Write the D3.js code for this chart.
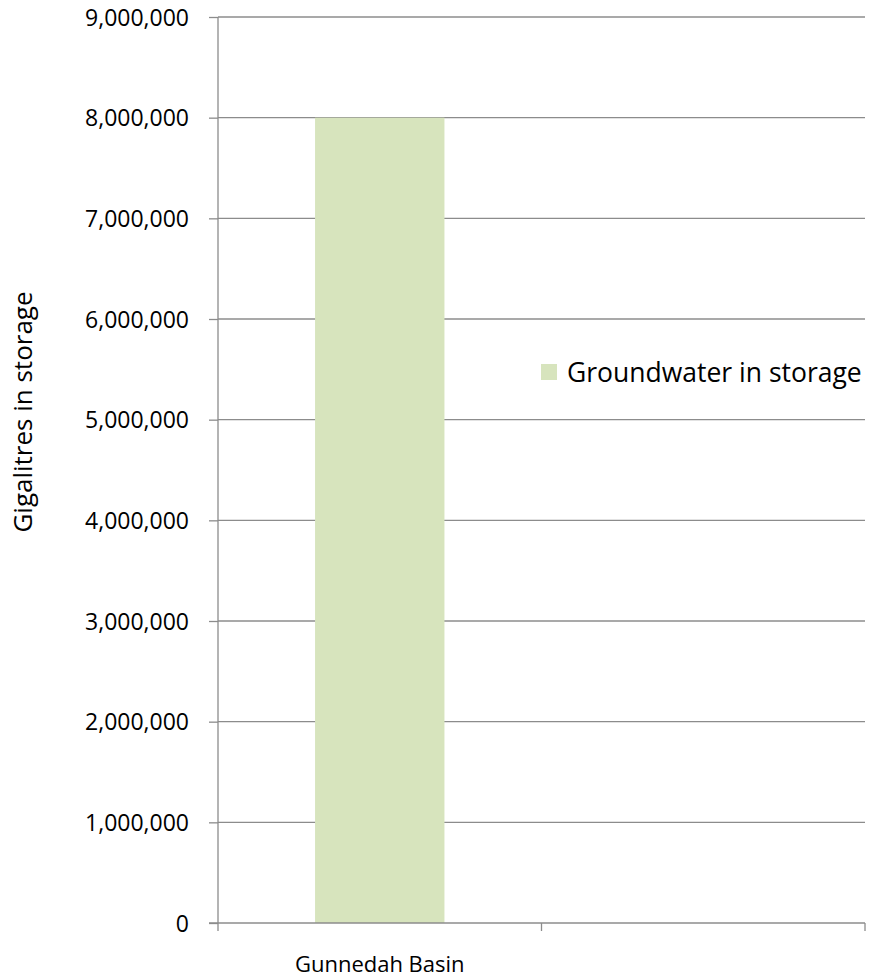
<!DOCTYPE html>
<html>
<head>
<meta charset="utf-8">
<script src="https://cdn.jsdelivr.net/npm/d3@7"></script>
<style>
  body { margin: 0; background: #fff; }
  text { font-family: "Open Sans", sans-serif; fill: #000; }
</style>
</head>
<body>
<div id="chart"></div>
<script>
// chart data
var categories = ["Gunnedah Basin", ""];
var values = [8000000, null];
var seriesName = "Groundwater in storage";
var yTicks = [0, 1000000, 2000000, 3000000, 4000000, 5000000, 6000000, 7000000, 8000000, 9000000];

var svgWidth = 877;
var svgHeight = 979;

var margin = { top: 17, right: 12, bottom: 56, left: 218 };
var chartWidth = 865 - margin.left;
var chartHeight = 923 - margin.top;

var svg = d3.select("#chart")
  .append("svg")
  .attr("width", svgWidth)
  .attr("height", svgHeight);

var chartGroup = svg.append("g")
  .attr("transform", `translate(${margin.left}, ${margin.top})`);

var xScale = d3.scaleBand()
  .domain(categories)
  .range([0, chartWidth])
  .paddingInner(0)
  .paddingOuter(0);

var yScale = d3.scaleLinear()
  .domain([0, 9000000])
  .range([chartHeight, 0]);

// gridlines
chartGroup.selectAll("line.grid")
  .data(yTicks.slice(1))
  .enter()
  .append("line")
  .attr("class", "grid")
  .attr("x1", 0)
  .attr("x2", chartWidth)
  .attr("y1", d => yScale(d))
  .attr("y2", d => yScale(d))
  .attr("stroke", "#8c8c8c")
  .attr("stroke-width", 1.3);

// bars
var barWidth = xScale.bandwidth() * 0.4;
chartGroup.selectAll("rect.bar")
  .data(categories.map((c, i) => ({ cat: c, value: values[i] })).filter(d => d.value != null))
  .enter()
  .append("rect")
  .attr("class", "bar")
  .attr("x", d => xScale(d.cat) + (xScale.bandwidth() - barWidth) / 2)
  .attr("width", barWidth)
  .attr("y", d => yScale(d.value))
  .attr("height", d => chartHeight - yScale(d.value))
  .attr("fill", "#d7e4bd");

// y axis
var yAxis = d3.axisLeft(yScale)
  .tickValues(yTicks)
  .tickSize(9)
  .tickPadding(20)
  .tickFormat(d3.format(","));

var yAxisG = chartGroup.append("g").call(yAxis);
yAxisG.attr("font-family", null).attr("font-size", null);
yAxisG.select(".domain").attr("stroke", "#8c8c8c").attr("stroke-width", 1.3).attr("d", `M0,0V${chartHeight}`);
yAxisG.selectAll(".tick line").attr("stroke", "#8c8c8c").attr("stroke-width", 1.3);
yAxisG.selectAll(".tick text")
  .attr("dy", "0.36em")
  .style("font-size", "23px");

// x axis
var xAxisG = chartGroup.append("g")
  .attr("transform", `translate(0, ${chartHeight})`);

xAxisG.append("line")
  .attr("x1", -9).attr("x2", chartWidth)
  .attr("stroke", "#8c8c8c").attr("stroke-width", 1.3);

var xTickPos = [0, xScale.bandwidth(), chartWidth];
xAxisG.selectAll("line.xtick")
  .data(xTickPos)
  .enter()
  .append("line")
  .attr("class", "xtick")
  .attr("x1", d => d).attr("x2", d => d)
  .attr("y1", 0).attr("y2", 8)
  .attr("stroke", "#8c8c8c").attr("stroke-width", 1.3);

xAxisG.selectAll("text.xlabel")
  .data(categories)
  .enter()
  .append("text")
  .attr("class", "xlabel")
  .attr("x", d => xScale(d) + xScale.bandwidth() / 2)
  .attr("y", 49)
  .style("text-anchor", "middle")
  .style("font-size", "22px")
  .text(d => d);

// y axis title
svg.append("text")
  .attr("transform", "rotate(-90)")
  .attr("x", -412)
  .attr("y", 32)
  .style("text-anchor", "middle")
  .style("font-size", "26px")
  .text("Gigalitres in storage");

// legend
var legend = svg.append("g").attr("transform", "translate(541, 364)");
legend.append("rect")
  .attr("width", 16).attr("height", 16)
  .attr("fill", "#d7e4bd");
legend.append("text")
  .attr("x", 26)
  .attr("y", 18)
  .style("font-size", "26.5px")
  .text(seriesName);
</script>
</body>
</html>
